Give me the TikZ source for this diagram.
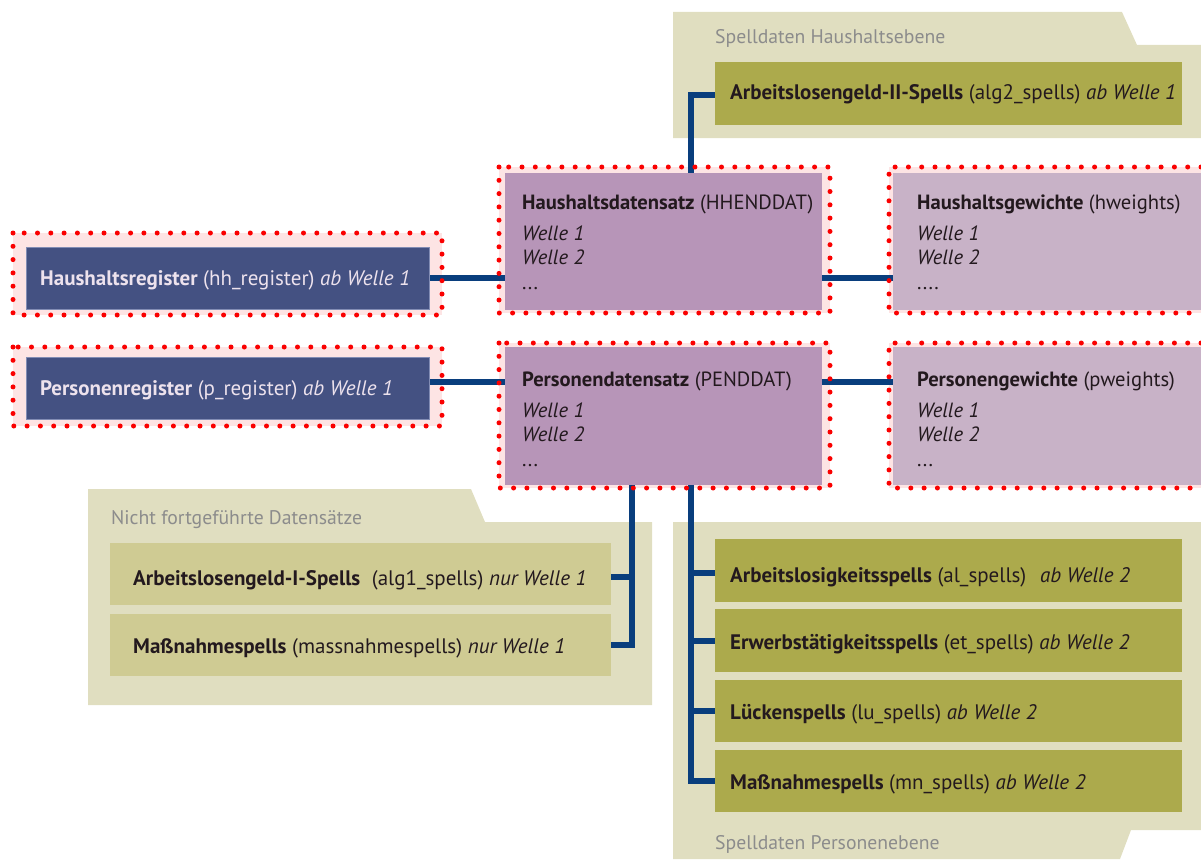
\documentclass[tikz,border=0pt]{standalone}
\usepackage{fontspec}
\setmainfont{PT Sans}
\usetikzlibrary{calc}
\definecolor{regblue}{RGB}{68,81,130}
\definecolor{regedge}{RGB}{130,140,180}
\definecolor{regtext}{RGB}{237,226,237}
\definecolor{datfill}{RGB}{183,149,184}
\definecolor{wfill}{RGB}{200,178,199}
\definecolor{folderfill}{RGB}{224,222,192}
\definecolor{olivefill}{RGB}{172,170,76}
\definecolor{lolivefill}{RGB}{207,203,147}
\definecolor{titlegray}{RGB}{140,140,140}
\definecolor{darktext}{RGB}{35,25,30}
\definecolor{linkblue}{RGB}{9,62,125}
\definecolor{pinkfill}{RGB}{253,228,228}
\definecolor{dotred}{RGB}{250,0,0}
\pgfdeclarelayer{bg}\pgfdeclarelayer{pinkl}\pgfdeclarelayer{lines}\pgfdeclarelayer{front}
\pgfsetlayers{bg,pinkl,lines,main,front}
\begin{document}
\begin{tikzpicture}[x=1pt,y=-1pt,
 conn/.style={draw=linkblue, line width=6},
 boxbase/.style={rectangle, anchor=north west, inner sep=0pt, outer sep=0pt},
 regbox/.style={boxbase, fill=regblue, draw=regedge, line width=1, minimum width=403, minimum height=62},
 datbox/.style={boxbase, fill=datfill, minimum width=317, minimum height=137},
 wbox/.style={boxbase, fill=wfill, minimum width=308, minimum height=137},
 olbox/.style={boxbase, fill=olivefill, minimum width=467, minimum height=62},
 lolbox/.style={boxbase, fill=lolivefill, minimum width=501, minimum height=62},
 txt/.style={anchor=base west, inner sep=0pt, font=\fontsize{21}{24}\selectfont, text=darktext},
 regtxt/.style={txt, text=regtext},
 mtxt/.style={anchor=base west, inner sep=0pt, align=left, font=\fontsize{20.6}{24.5}\selectfont, text=darktext},
 ftitle/.style={anchor=base west, inner sep=0pt, font=\fontsize{19.7}{22}\selectfont, text=titlegray},
 pinkpad/.style={fill=pinkfill},
 dotline/.style={draw=dotred, line width=5, dash pattern=on 0pt off 13.3pt, line cap=round},
 folder/.style={fill=folderfill}
]
\useasboundingbox (0,0) rectangle (1201,859);

% folders
\begin{pgfonlayer}{bg}
\path[folder] (673,12) -- (1122,12) -- (1137,45) -- (1201,45) -- (1201,138) -- (673,138) -- cycle;
\path[folder] (88,489) -- (471,489) -- (485,522) -- (652,522) -- (652,705) -- (88,705) -- cycle;
\path[folder] (673,522) -- (1201,522) -- (1201,830) -- (1131,830) -- (1120,859) -- (673,859) -- cycle;
\end{pgfonlayer}
\node[ftitle] (t1) at (715,44) {Spelldaten Haushaltsebene};
\node[ftitle] (t2) at (111,524) {Nicht fortgeführte Datensätze};
\node[ftitle] (t3) at (715,849) {Spelldaten Personenebene};

% boxes
\node[regbox] (hhreg) at (26,247) {};
\node[regbox] (preg) at (26,357) {};
\node[datbox] (hhdat) at (505,173) {};
\node[datbox, minimum height=138] (pdat) at (505,347) {};
\node[wbox] (hw) at (893,173) {};
\node[wbox, minimum height=138] (pw) at (893,347) {};
\node[olbox, minimum height=63] (alg2) at (715,62) {};
\node[lolbox] (alg1) at (110,543) {};
\node[lolbox] (mass) at (110,614) {};
\node[olbox, minimum height=63] (al) at (715,539) {};
\node[olbox, minimum height=63] (et) at (715,609) {};
\node[olbox] (lu) at (715,680) {};
\node[olbox] (mn) at (715,750) {};

% texts
\node[regtxt] (hhregt) at ($(hhreg.west)+(14,7)$) {\textbf{Haushaltsregister} (hh\_register) \textit{ab Welle 1}};
\node[regtxt] (pregt) at ($(preg.west)+(14,7)$) {\textbf{Personenregister} (p\_register) \textit{ab Welle 1}};
\node[mtxt] (hhdatt) at ($(hhdat.north west)+(17,116)$) {\textbf{Haushaltsdatensatz} (HHENDDAT)\\[6.5pt]\textit{Welle 1}\\\textit{Welle 2}\\...};
\node[mtxt] (pdatt) at ($(pdat.north west)+(17,119)$) {\textbf{Personendatensatz} (PENDDAT)\\[6.5pt]\textit{Welle 1}\\\textit{Welle 2}\\...};
\node[mtxt] (hwt) at ($(hw.north west)+(24,116)$) {\textbf{Haushaltsgewichte} (hweights)\\[6.5pt]\textit{Welle 1}\\\textit{Welle 2}\\....};
\node[mtxt] (pwt) at ($(pw.north west)+(24,119)$) {\textbf{Personengewichte} (pweights)\\[6.5pt]\textit{Welle 1}\\\textit{Welle 2}\\...};
\node[txt] (alg2t) at ($(alg2.west)+(15,6)$) {\textbf{Arbeitslosengeld-II-Spells} (alg2\_spells) \textit{ab Welle 1}};
\node[txt] (alg1t) at ($(alg1.west)+(23,11)$) {\textbf{Arbeitslosengeld-I-Spells}\hspace{0.55em}(alg1\_spells) \textit{nur Welle 1}};
\node[txt] (masst) at ($(mass.west)+(23,8)$) {\textbf{Maßnahmespells} (massnahmespells) \textit{nur Welle 1}};
\node[txt] (alt) at ($(al.west)+(15,12)$) {\textbf{Arbeitslosigkeitsspells} (al\_spells)\hspace{0.65em}\textit{ab Welle 2}};
\node[txt] (ett) at ($(et.west)+(15,9)$) {\textbf{Erwerbstätigkeitsspells} (et\_spells) \textit{ab Welle 2}};
\node[txt] (lut) at ($(lu.west)+(15,8)$) {\textbf{Lückenspells} (lu\_spells) \textit{ab Welle 2}};
\node[txt] (mnt) at ($(mn.west)+(15,8)$) {\textbf{Maßnahmespells} (mn\_spells) \textit{ab Welle 2}};

% highlight outlines
\begin{pgfonlayer}{pinkl}
\path[pinkpad] ($(hhreg.north west)+(-13,-14)$) rectangle ($(hhreg.south east)+(13,6)$);
\path[pinkpad] ($(preg.north west)+(-13,-10)$) rectangle ($(preg.south east)+(13,7)$);
\path[pinkpad] ($(hhdat.north west)+(-6,-6)$) rectangle ($(hhdat.south east)+(8,3)$);
\path[pinkpad] ($(pdat.north west)+(-6,-4)$) rectangle ($(pdat.south east)+(8,3)$);
\path[pinkpad] ($(hw.north west)+(-4,-6)$) rectangle ($(hw.south east)+(0,3)$);
\path[pinkpad] ($(pw.north west)+(-4,-4)$) rectangle ($(pw.south east)+(0,3)$);
\end{pgfonlayer}
\begin{pgfonlayer}{front}
\draw[dotline] ($(hhreg.north west)+(-13,-14)$) rectangle ($(hhreg.south east)+(13,6)$);
\draw[dotline] ($(preg.north west)+(-13,-10)$) rectangle ($(preg.south east)+(13,7)$);
\draw[dotline] ($(hhdat.north west)+(-6,-6)$) rectangle ($(hhdat.south east)+(8,3)$);
\draw[dotline] ($(pdat.north west)+(-6,-4)$) rectangle ($(pdat.south east)+(8,3)$);
\draw[dotline] ($(hw.north east)+(0,-6)$) -- ($(hw.north west)+(-4,-6)$) -- ($(hw.south west)+(-4,3)$) -- ($(hw.south east)+(0,3)$);
\draw[dotline] ($(pw.north east)+(0,-4)$) -- ($(pw.north west)+(-4,-4)$) -- ($(pw.south west)+(-4,3)$) -- ($(pw.south east)+(0,3)$);
\end{pgfonlayer}

% connectors
\begin{pgfonlayer}{lines}
\draw[conn] (hhreg.east) -- (hhreg.east -| hhdat.west);
\draw[conn] ($(preg.east)+(0,-6)$) -- ($(preg.east -| pdat.west)+(0,-6)$);
\draw[conn] (hhdat.east |- hhreg.east) -- (hw.west |- hhreg.east);
\draw[conn] ($(pdat.east |- preg.east)+(0,-6)$) -- ($(pw.west |- preg.east)+(0,-6)$);
\draw[conn] ($(hhdat.north west)+(186,0)$) |- ($(alg2.west)+(0,1.5)$);
\draw[conn] ($(pdat.south west)+(186,0)$) |- (mn.west);
\draw[conn] ($(al.west)+(0,2.5)$) -- ++(-27,0);
\draw[conn] (et.west) -- ++(-27,0);
\draw[conn] (lu.west) -- ++(-27,0);
\draw[conn] ($(pdat.south west)+(127,0)$) |- (mass.east);
\draw[conn] ($(alg1.east)+(0,3)$) -- ++(24,0);
\end{pgfonlayer}
\end{tikzpicture}
\end{document}
